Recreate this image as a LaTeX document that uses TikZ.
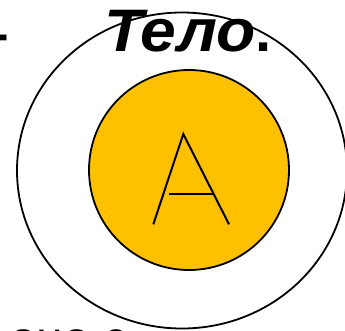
\documentclass[tikz,border=0pt]{standalone}
\usepackage{graphicx}
\usepackage{fontspec}
\setmainfont{Liberation Sans}
\definecolor{myorange}{RGB}{255,192,0}
\begin{document}
\begin{tikzpicture}[x=1pt,y=-1pt,
  ring/.style={line width=1.8pt, draw=black},
  stroke/.style={line width=2pt, draw=black},
  bigtext/.style={anchor=base west, inner sep=0pt, font=\fontsize{58}{60}\selectfont}]
\useasboundingbox (0,0) rectangle (345,330);
\clip (0,0) rectangle (345,330);
\fill[white] (0,0) rectangle (345,330);
\draw[ring] (182,170.5) ellipse [x radius=165, y radius=158];
\draw[ring, fill=myorange] (189,170) circle [radius=100];
\coordinate (apex) at (183.3,134);
\coordinate (lfoot) at (153.3,224.3);
\coordinate (rfoot) at (229,224.3);
\coordinate (barl) at (169,194.3);
\coordinate (barr) at (213.5,194.3);
\draw[stroke] (lfoot) -- (apex) -- (rfoot);
\draw[stroke] (barl) -- (barr);
\node[bigtext, font=\bfseries\itshape\fontsize{60}{62}\selectfont] (title) at (104,51) {\scalebox{1.07}[1]{Тело}};
\node[bigtext, font=\bfseries\fontsize{58}{60}\selectfont] (period) at (255,51) {.};
\node[bigtext, anchor=base east, font=\bfseries\fontsize{58}{60}\selectfont] (dash) at (9,53) {–};
\node[bigtext, font=\fontsize{48}{50}\selectfont] (bottom) at (10,355) {ано с};
\end{tikzpicture}
\end{document}
